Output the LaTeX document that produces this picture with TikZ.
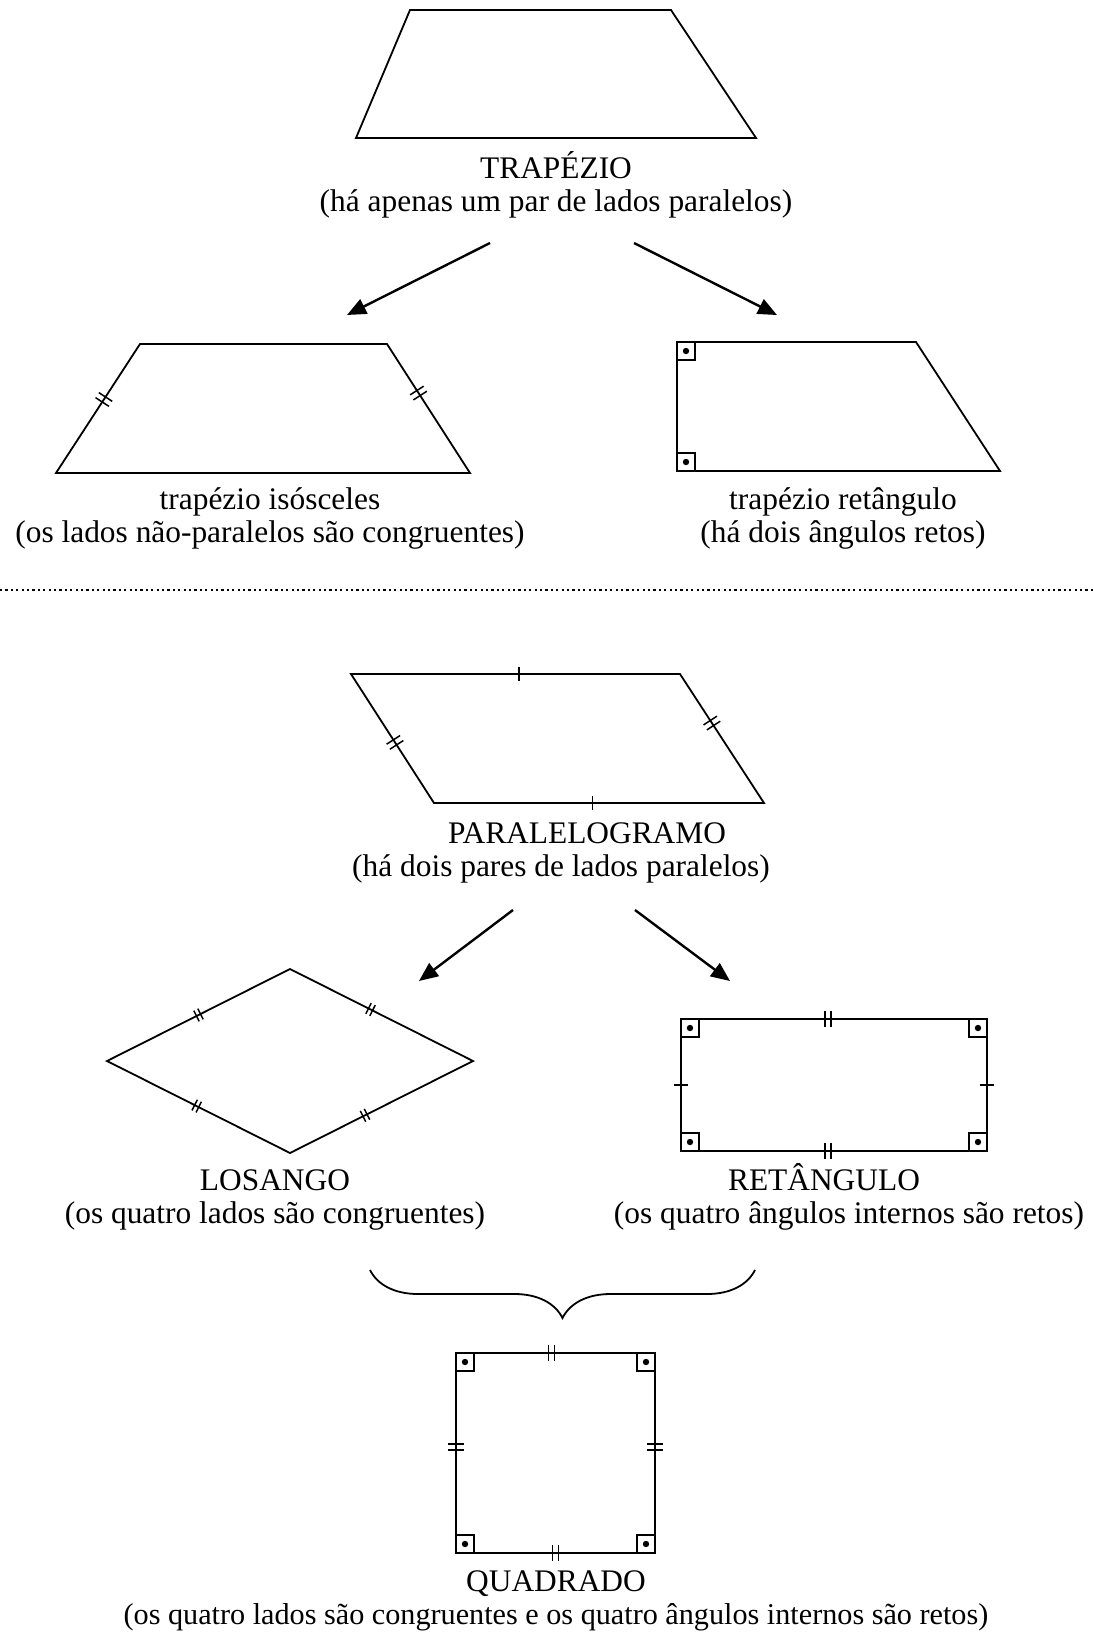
\documentclass[tikz,border=0pt]{standalone}
\usepackage{fontspec}
\setmainfont{Liberation Serif}
\usepackage{tikz}
\usetikzlibrary{positioning,arrows.meta,decorations.pathreplacing}

\begin{document}
\begin{tikzpicture}[
      x=0.5pt, y=-0.5pt,
      node distance=0pt,
      shp/.style={line width=0.9pt, line join=miter},
      ttl/.style={inner sep=0pt, text height=12.6pt, text depth=3.9pt, font=\fontsize{15.7}{17}\selectfont},
      arr/.style={-{Triangle[length=9.5pt,width=8pt]}, line width=1.2pt},
      sep/.style={line width=1.1pt, dash pattern=on 1.1pt off 1.6pt},
      tk/.pic={\draw[line width=0.75pt] (0,-7) -- (0,7);},
      tkk/.pic={\draw[line width=0.75pt] (-3,-8) -- (-3,8) (3,-8) -- (3,8);},
      ra/.pic={\draw[line width=0.7pt] (0,0) rectangle (18,18); \fill (9,9) circle (3.2);},
    ]
    \useasboundingbox (0,0) rectangle (1093,1639);

    % trapezio
    \draw[shp] (410,10) -- (671,10) -- (756,138) -- (356,138) -- cycle;
    \node[ttl, anchor=base] (trap) at (556,178) {TRAPÉZIO};
    \node[ttl, below=of trap] (trapnt) {(há apenas um par de lados paralelos)};

    \coordinate (a1s) at (490,243); \coordinate (a1e) at (347,315);
    \coordinate (a2s) at (634,243); \coordinate (a2e) at (777,315);
    \draw[arr] (a1s) -- (a1e);
    \draw[arr] (a2s) -- (a2e);

    % isosceles
    \draw[shp] (140,344) -- (387,344) -- pic[pos=.38, sloped]{tkk} (470,473) -- (56,473)
               -- pic[pos=.57, sloped]{tkk} cycle;
    \node[ttl, anchor=base] (iso) at (270,509) {trapézio isósceles};
    \node[ttl, below=of iso] (isont) {(os lados não-paralelos são congruentes)};

    % retangulo
    \draw[shp] (677,342) -- (916,342) -- (1000,471) -- (677,471) -- cycle;
    \pic at (677,342) {ra};
    \pic[rotate=90] at (677,471) {ra};
    \node[ttl, anchor=base] (ret) at (843,509) {trapézio retângulo};
    \node[ttl, below=of ret] (retnt) {(há dois ângulos retos)};

    \draw[sep] (0,590) -- (1093,590);

    % paralelogramo
    \draw[shp] (351,674) -- pic[pos=.51, sloped]{tk} (680,674) -- pic[pos=.38, sloped]{tkk} (764,803)
               -- pic[pos=.52, sloped]{tk} (434,803) -- pic[pos=.47, sloped]{tkk} cycle;
    \node[ttl, anchor=base] (par) at (587,843) {PARALELOGRAMO};
    \node[ttl, below=of par, xshift=-13pt] (parnt) {(há dois pares de lados paralelos)};

    \coordinate (b1s) at (513,910); \coordinate (b1e) at (419,981);
    \coordinate (b2s) at (635,910); \coordinate (b2e) at (730,981);
    \draw[arr] (b1s) -- (b1e);
    \draw[arr] (b2s) -- (b2e);

    % losango
    \draw[shp] (107,1061) -- pic[pos=.5, sloped, scale=.75]{tkk} (290,969) -- pic[pos=.44, sloped, scale=.75]{tkk} (473,1061)
               -- pic[pos=.59, sloped, scale=.75]{tkk} (290,1153) -- pic[pos=.51, sloped, scale=.75]{tkk} cycle;
    \node[ttl, anchor=base] (los) at (275,1190) {LOSANGO};
    \node[ttl, below=of los] (losnt) {(os quatro lados são congruentes)};

    % retangulo
    \draw[shp] (681,1019) -- pic[pos=.48, sloped]{tkk} (987,1019) -- pic[sloped]{tk} (987,1151)
               -- pic[pos=.52, sloped]{tkk} (681,1151) -- pic[sloped]{tk} cycle;
    \pic at (681,1019) {ra};
    \pic[rotate=-90] at (987,1019) {ra};
    \pic[rotate=180] at (987,1151) {ra};
    \pic[rotate=90] at (681,1151) {ra};
    \node[ttl, anchor=base] (rtg) at (824,1190) {RETÂNGULO};
    \node[ttl, below=of rtg, xshift=12.5pt] (rtgnt) {(os quatro ângulos internos são retos)};

    \draw[decorate, decoration={brace, mirror, amplitude=24pt}, line width=0.9pt] (370,1270) -- (755,1270);

    % quadrado
    \draw[shp] (456,1353) -- pic[pos=.48, sloped]{tkk} (655,1353) -- pic[pos=.47, sloped]{tkk} (655,1553)
               -- pic[pos=.5, sloped]{tkk} (456,1553) -- pic[pos=.53, sloped]{tkk} cycle;
    \pic at (456,1353) {ra};
    \pic[rotate=-90] at (655,1353) {ra};
    \pic[rotate=180] at (655,1553) {ra};
    \pic[rotate=90] at (456,1553) {ra};
    \node[ttl, anchor=base] (qua) at (556,1591) {QUADRADO};
    \node[ttl, below=of qua, font=\fontsize{15.1}{17}\selectfont] (quant) {(os quatro lados são congruentes e os quatro ângulos internos são retos)};
  \end{tikzpicture}
\end{document}
